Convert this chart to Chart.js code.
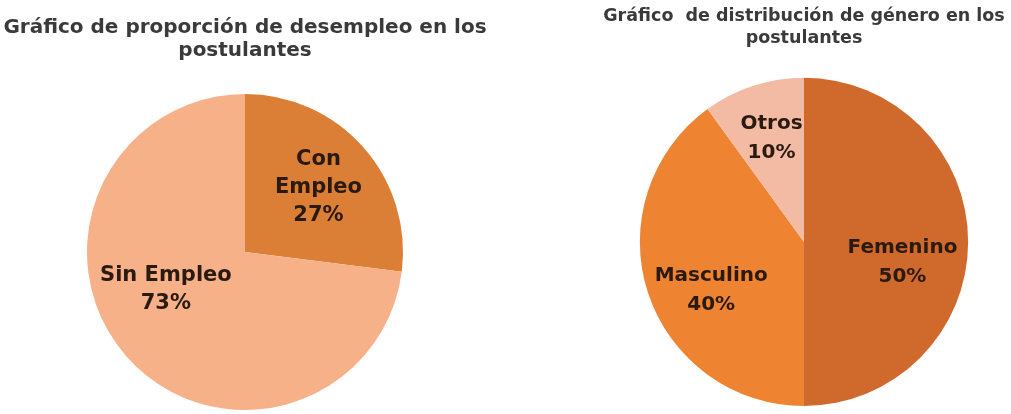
<!DOCTYPE html>
<html>
<head>
<meta charset="utf-8">
<script src="https://cdn.jsdelivr.net/npm/chart.js@4.4.1/dist/chart.umd.min.js"></script>
<style>
    body { margin: 0; background: #fff; }
    #wrapLeft { position: absolute; left: 0; top: 0; width: 490px; height: 414px; }
    #wrapRight { position: absolute; left: 597px; top: 0; width: 414px; height: 414px; }
</style>
</head>
<body>
<div id="wrapLeft"><canvas id="chartLeft"></canvas></div>
<div id="wrapRight"><canvas id="chartRight"></canvas></div>
<script>
// data
var empleo_labels = [["Con", "Empleo"], ["Sin Empleo"]];
var empleo_values = [27, 73];
var genero_labels = [["Femenino"], ["Masculino"], ["Otros"]];
var genero_values = [50, 40, 10];

// get an object by id
function cObj(id) {
    return document.getElementById(id);
}

// draws "name / pct%" inside each slice
var sliceLabels = {
    id: 'sliceLabels',
    afterDatasetsDraw: function (chart, args, opts) {
        var ctx = chart.ctx;
        var meta = chart.getDatasetMeta(0);
        var values = chart.data.datasets[0].data;
        var total = values.reduce(function (a, b) { return a + b; }, 0);
        ctx.save();
        ctx.font = opts.font;
        ctx.fillStyle = opts.color;
        ctx.textAlign = 'center';
        ctx.textBaseline = 'middle';
        meta.data.forEach(function (arc, i) {
            var p = arc.getProps(['x', 'y', 'startAngle', 'endAngle', 'outerRadius'], true);
            var mid = (p.startAngle + p.endAngle) / 2;
            var r = p.outerRadius * opts.radius[i];
            var nudge = opts.nudge[i];
            var lines = chart.data.labels[i].slice();
            lines.push(Math.round(values[i] / total * 100) + '%');
            var cx = p.x + Math.cos(mid) * r + nudge[0];
            var cy = p.y + Math.sin(mid) * r + nudge[1];
            var top = cy - (lines.length - 1) * opts.lineHeight / 2;
            lines.forEach(function (line, k) {
                ctx.fillText(line, cx, top + k * opts.lineHeight);
            });
        });
        ctx.restore();
    }
};

function plotPie(ctx_id, labels, values, colors, title, titleOpts, layoutPad, labelOpts) {
    return new Chart(cObj(ctx_id), {
        type: 'pie',
        data: {
            labels: labels,
            datasets: [{
                data: values,
                backgroundColor: colors,
                borderWidth: 0
            }]
        },
        options: {
            responsive: true,
            maintainAspectRatio: false,
            animation: false,
            layout: { padding: layoutPad },
            plugins: {
                title: {
                    display: true,
                    text: title,
                    color: '#3a3a3a',
                    font: titleOpts.font,
                    padding: titleOpts.padding
                },
                legend: { display: false },
                tooltip: { enabled: false },
                sliceLabels: labelOpts
            }
        },
        plugins: [sliceLabels]
    });
}

plotPie('chartLeft', empleo_labels, empleo_values,
    ['#DB7F36', '#F6B189'],
    ['Gráfico de proporción de desempleo en los', 'postulantes'],
    {
        font: { family: '"DejaVu Sans", sans-serif', size: 20, weight: 'bold', lineHeight: 1.15 },
        padding: { top: 16, bottom: 32 }
    },
    { left: 0, right: 0, top: 0, bottom: 4 },
    {
        font: 'bold 21px "DejaVu Sans", sans-serif',
        color: '#2a1a10',
        lineHeight: 28,
        radius: [0.62, 0.6],
        nudge: [[0, 0], [-8, -25]]
    });

plotPie('chartRight', genero_labels, genero_values,
    ['#D06A2C', '#EE8332', '#F3BBA3'],
    ['Gráfico  de distribución de género en los', 'postulantes'],
    {
        font: { family: '"DejaVu Sans", sans-serif', size: 17.5, weight: 'bold', lineHeight: 1.25 },
        padding: { top: 6, bottom: 28 }
    },
    { left: 0, right: 0, top: 0, bottom: 8 },
    {
        font: 'bold 20px "DejaVu Sans", sans-serif',
        color: '#2a1a10',
        lineHeight: 29,
        radius: [0.6, 0.62, 0.64],
        nudge: [[0, 20], [4, 17], [0, -4]]
    });
</script>
</body>
</html>
